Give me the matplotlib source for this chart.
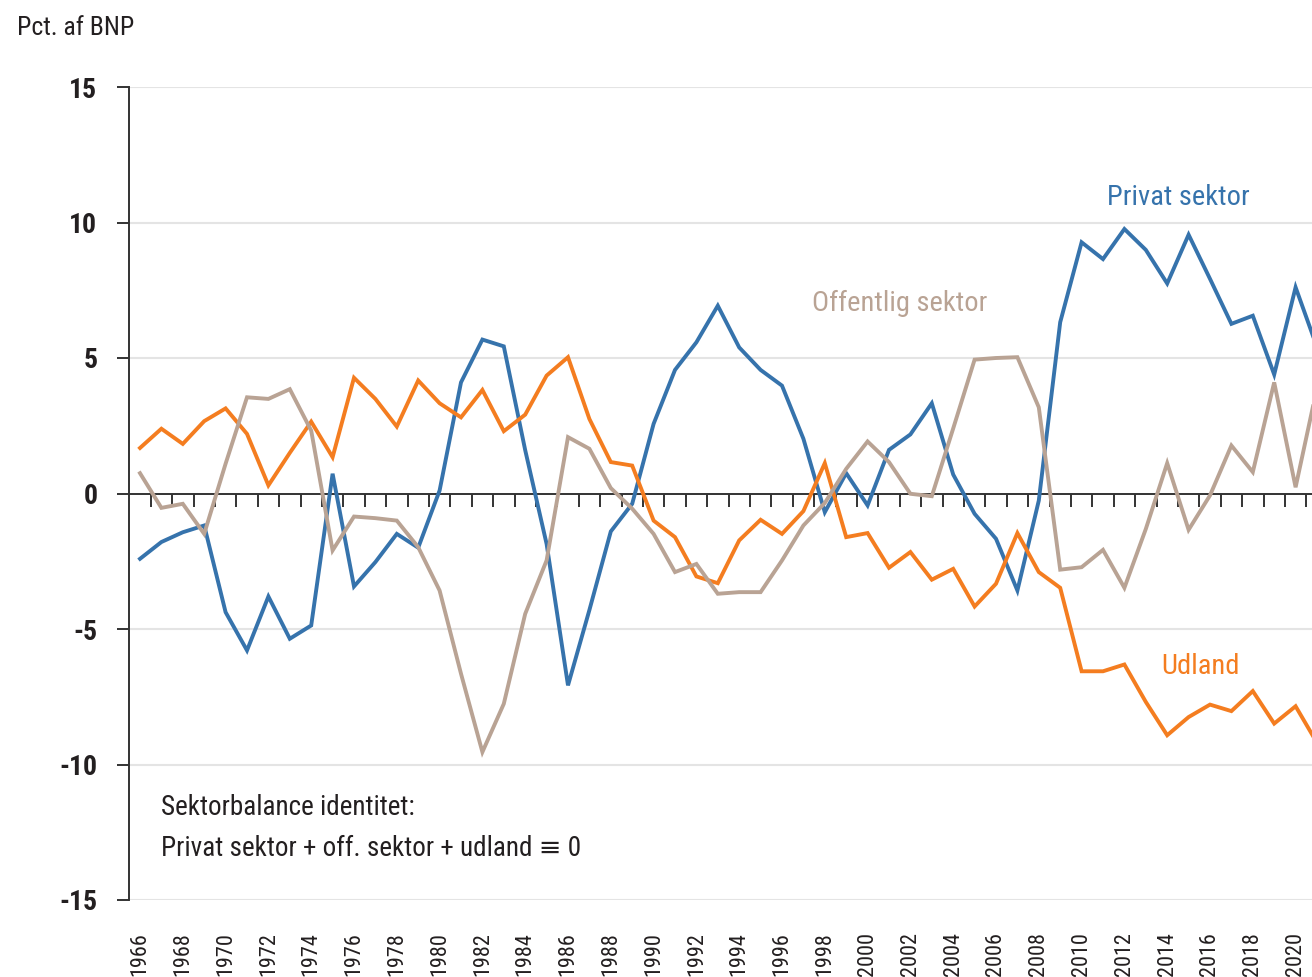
import matplotlib
matplotlib.use("Agg")
import matplotlib.pyplot as plt
import matplotlib.transforms as mtransforms
from matplotlib.ticker import FixedLocator

# ---------------- data ----------------
years = list(range(1966, 2022))

privat = [-2.41, -1.79, -1.43, -1.18, -4.38, -5.79, -3.80, -5.36, -4.87, 0.73,
          -3.43, -2.53, -1.49, -2.00, 0.11, 4.10, 5.68, 5.43, 1.60, -1.86,
          -7.08, -4.30, -1.40, -0.38, 2.57, 4.56, 5.58, 6.93, 5.39, 4.56,
          3.98, 2.02, -0.69, 0.75, -0.44, 1.61, 2.18, 3.33, 0.70, -0.75,
          -1.67, -3.58, -0.26, 6.32, 9.27, 8.65, 9.76, 8.99, 7.75, 9.55,
          7.92, 6.26, 6.56, 4.39, 7.61, 5.40]

offentlig = [0.75, -0.53, -0.38, -1.49, 1.10, 3.55, 3.49, 3.85, 2.32, -2.10,
             -0.85, -0.91, -1.00, -1.98, -3.58, -6.65, -9.54, -7.76, -4.44, -2.47,
             2.08, 1.65, 0.20, -0.56, -1.49, -2.90, -2.60, -3.70, -3.64, -3.64,
             -2.47, -1.18, -0.35, 0.91, 1.92, 1.16, -0.01, -0.10, 2.40, 4.94,
             5.00, 5.03, 3.18, -2.81, -2.72, -2.08, -3.48, -1.31, 1.12, -1.34,
             -0.07, 1.77, 0.79, 4.10, 0.23, 3.90]

udland = [1.68, 2.39, 1.83, 2.67, 3.14, 2.20, 0.30, 1.50, 2.65, 1.34,
          4.27, 3.49, 2.47, 4.17, 3.33, 2.81, 3.82, 2.30, 2.91, 4.35,
          5.03, 2.75, 1.16, 1.03, -1.00, -1.61, -3.06, -3.31, -1.73, -0.97,
          -1.49, -0.65, 1.12, -1.61, -1.46, -2.74, -2.16, -3.18, -2.78, -4.17,
          -3.33, -1.46, -2.90, -3.48, -6.56, -6.56, -6.31, -7.69, -8.92, -8.25,
          -7.79, -8.03, -7.29, -8.49, -7.85, -9.20]

year_labels = [str(y) for y in range(1966, 2021, 2)]
y_ticks = [-15, -10, -5, 0, 5, 10, 15]

# ---------------- style ----------------
C_BLUE = "#3673AC"
C_ORANGE = "#F47D20"
C_TAN = "#B9A394"
C_TEXT = "#231F20"
FONT = ["Roboto Condensed", "Roboto", "DejaVu Sans"]
plt.rcParams["font.family"] = FONT
plt.rcParams["axes.unicode_minus"] = False

fig = plt.figure(figsize=(13.12, 9.77), dpi=100)
ax = fig.add_axes([129.3 / 1312, 1 - 900 / 977,
                   (56 * 21.4) / 1312, (900 - 87) / 977])

ax.set_xlim(1965.5, 2021.5)
ax.set_ylim(-15, 15)

# gridlines
for yv in y_ticks:
    if yv != 0:
        ax.axhline(yv, color="#E4E4E4", lw=1.5, zorder=0)

# series
ax.plot(years, privat, color=C_BLUE, lw=2.8, zorder=3, solid_joinstyle="miter")
ax.plot(years, udland, color=C_ORANGE, lw=2.8, zorder=3, solid_joinstyle="miter")
ax.plot(years, offentlig, color=C_TAN, lw=2.8, zorder=3, solid_joinstyle="miter")

# spines
for s in ["top", "right"]:
    ax.spines[s].set_visible(False)
ax.spines["left"].set_color("#333333")
ax.spines["left"].set_linewidth(1.4)
ax.spines["bottom"].set_position(("data", 0))
ax.spines["bottom"].set_color("#333333")
ax.spines["bottom"].set_linewidth(1.4)

# y ticks
ax.yaxis.set_major_locator(FixedLocator(y_ticks))
ax.tick_params(axis="y", direction="out", length=9, width=1.4, color="#333333",
               pad=14, labelsize=20, labelcolor=C_TEXT)
for lab in ax.get_yticklabels():
    lab.set_fontweight("bold")

# x ticks on zero line, at boundaries between years
ax.xaxis.set_major_locator(FixedLocator([y + 0.5 for y in years]))
ax.tick_params(axis="x", direction="out", length=9, width=1.4, color="#333333",
               labelbottom=False)

# year labels below the plot
trans = mtransforms.blended_transform_factory(ax.transData, ax.transAxes)
off = mtransforms.offset_copy(trans, fig=fig, x=0, y=-23, units="points")
for lab in year_labels:
    ax.text(int(lab), 0, lab, transform=off, rotation=90, ha="center", va="top",
            fontsize=16, color=C_TEXT, clip_on=False)

# title / unit
fig.text(17 / 1312, 1 - 35 / 977, "Pct. af BNP", ha="left", va="baseline",
         fontsize=18.5, color=C_TEXT)

# series labels
ax.text(2014.52, 10.66, "Privat sektor", color=C_BLUE, fontsize=20.5,
        ha="center", va="baseline")
ax.text(2001.48, 6.75, "Offentlig sektor", color=C_TAN, fontsize=20.5,
        ha="center", va="baseline")
ax.text(2015.57, -6.67, "Udland", color=C_ORANGE, fontsize=20.5,
        ha="center", va="baseline")

# annotation
ax.text(1967.0, -11.87, "Sektorbalance identitet:", fontsize=19.5, color=C_TEXT,
        ha="left", va="baseline")
ax.text(1967.0, -13.38, "Privat sektor + off. sektor + udland \u2261 0", fontsize=19.5,
        color=C_TEXT, ha="left", va="baseline")

fig.savefig("out.png", dpi=100)
